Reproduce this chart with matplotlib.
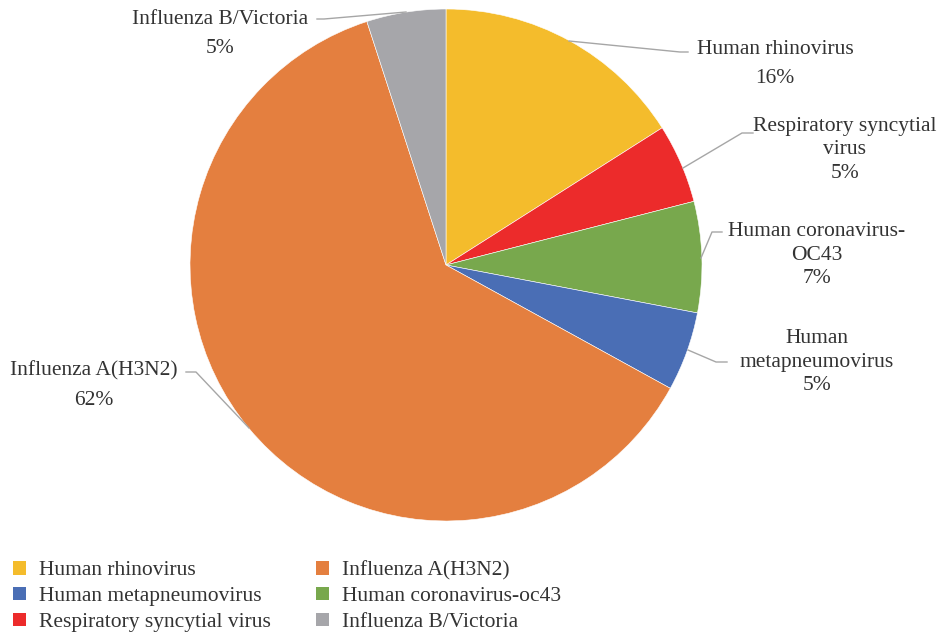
import matplotlib.pyplot as plt
from matplotlib.patches import Patch

labels = ['Human rhinovirus', 'Respiratory syncytial\nvirus', 'Human coronavirus-\nOC43',
          'Human\nmetapneumovirus', 'Influenza A(H3N2)', 'Influenza B/Victoria']
legend_labels = ['Human rhinovirus', 'Respiratory syncytial virus', 'Human coronavirus-oc43',
                 'Human metapneumovirus', 'Influenza A(H3N2)', 'Influenza B/Victoria']
values = [16, 5, 7, 5, 62, 5]
colors = ['#F4BC2C', '#EC2B2B', '#78A84D', '#4A6EB5', '#E47F3F', '#A6A6AA']

W, H = 941, 635
plt.rcParams['font.family'] = ['Liberation Serif', 'DejaVu Serif']

fig = plt.figure(figsize=(W / 100, H / 100), dpi=100)
ax = fig.add_axes([0, 0, 1, 1])

# pie centre / radius in pixels (y measured from top)
cx, cy, r = 446, 265, 256
wedges, _ = ax.pie(values, colors=colors, startangle=90, counterclock=False,
                   center=(cx, H - cy), radius=r, frame=True,
                   wedgeprops=dict(edgecolor='white', linewidth=0.4))
ax.set_xlim(0, W)
ax.set_ylim(0, H)
ax.set_aspect('equal')
ax.axis('off')

txt_color = '#333333'
line_color = '#A6A6A6'
fs = 15.5

# label text centre, leader line points (pixels from top-left)
label_pos = [
    (775, 64, [(569, 41), (680, 52), (688, 52)]),
    (845, 150, [(683, 168), (742, 133), (753, 133)]),
    (817, 255, [(701, 258), (712, 232), (722, 232)]),
    (817, 362, [(688, 350), (716, 362), (727, 362)]),
    (94, 386, [(249, 428), (196, 372), (186, 372)]),
    (220, 34, [(406, 12), (324, 19), (317, 19)]),
]

for lab, val, (tx, ty, pts) in zip(labels, values, label_pos):
    xs = [p[0] for p in pts]
    ys = [H - p[1] for p in pts]
    ax.plot(xs, ys, color=line_color, lw=1)
    ls = 1.3 if '\n' in lab else 1.75
    ax.text(tx, H - ty, lab + '\n' + f'{val}%', ha='center', va='center',
            fontsize=fs, color=txt_color, linespacing=ls)

order = [0, 3, 1, 4, 2, 5]
handles = [Patch(facecolor=colors[i], edgecolor='none') for i in order]
fig.legend(handles, [legend_labels[i] for i in order], ncol=2, loc='upper left',
           bbox_to_anchor=(0.0, 1 - 548 / H), frameon=False, fontsize=fs,
           handlelength=0.6, handleheight=0.6, handletextpad=0.6,
           columnspacing=2.1, labelspacing=0.3, borderaxespad=0.2,
           labelcolor=txt_color)

fig.savefig('out.png', dpi=100)
